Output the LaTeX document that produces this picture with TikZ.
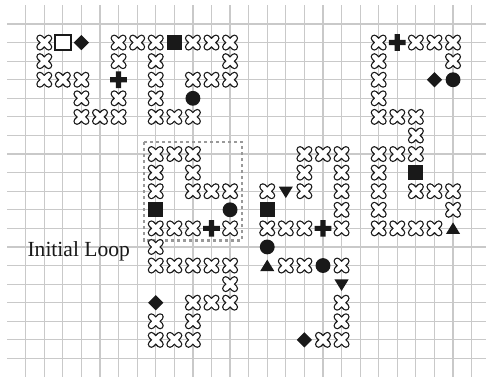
\documentclass[tikz,border=0pt]{standalone}
\usepackage{fontspec}
\setmainfont{Liberation Serif}
\definecolor{gridc}{gray}{0.79}
\definecolor{boxc}{gray}{0.6}
\definecolor{ink}{gray}{0.1}
\tikzset{
  gridline/.style={draw=gridc, line width=0.9pt},
  xout/.style={draw=ink, line width=5.6pt, line cap=round},
  xin/.style={draw=white, line width=3.6pt, line cap=round},
  xk/.pic={
    \draw[xout] (-0.235,-0.235)--(0.235,0.235) (-0.235,0.235)--(0.235,-0.235);
    \draw[xin] (-0.235,-0.235)--(0.235,0.235) (-0.235,0.235)--(0.235,-0.235);
  },
  fsq/.pic={\fill[ink] (-0.4,-0.4) rectangle (0.4,0.4);},
  osq/.pic={\draw[ink, line width=1.5pt, fill=white] (-0.42,-0.42) rectangle (0.42,0.42);},
  dia/.pic={\fill[ink] (-0.41,0) -- (0,-0.41) -- (0.41,0) -- (0,0.41) -- cycle;},
  dot/.pic={\fill[ink] (0,0) circle (0.4);},
  pls/.pic={\fill[ink] (-0.45,-0.14) rectangle (0.45,0.14) (-0.14,-0.45) rectangle (0.14,0.45);},
  tup/.pic={\fill[ink] (-0.38,0.3) -- (0.38,0.3) -- (0,-0.32) -- cycle;},
  tdn/.pic={\fill[ink] (-0.38,-0.25) -- (0.38,-0.25) -- (0,0.37) -- cycle;},
  loopbox/.style={draw=boxc, line width=1.6pt, dash pattern=on 2.3pt off 2.3pt},
  lbl/.style={font=\fontsize{16.5}{18}\selectfont, text=ink, inner sep=0pt, anchor=base west}
}
\begin{document}
\begin{tikzpicture}[x=0.5cm, y=-0.5cm]
\useasboundingbox[fill=white] (-1.383,-1.292) rectangle (24.774,18.945);
\begin{scope}
\clip (-1.383,-1.292) rectangle (24.774,18.945);
\foreach \i in {0,...,24} \draw[gridline] (\i,-1) -- (\i,19.5);
\foreach \j in {0,...,18} \draw[gridline] (-1,\j) -- (25.5,\j);
\end{scope}
% top-left figure
\foreach \c/\r in {1/1,1/2,1/3,2/3,3/3,3/4,3/5,4/5,5/5,5/4,5/2,5/1,6/1,7/1,7/2,7/3,7/4,7/5,8/5,9/5,9/1,10/1,11/1,11/2,11/3,10/3,9/3}
  \pic at (\c,\r) {xk};
\pic at (2,1) {osq};
\pic at (3,1) {dia};
\pic at (5,3) {pls};
\pic at (8,1) {fsq};
\pic at (9,4) {dot};
% top-right figure
\foreach \c/\r in {19/1,21/1,22/1,23/1,19/2,23/2,19/3,19/4,19/5,20/5,21/5,21/6,21/7,20/7,19/7,19/8,19/9,19/10,19/11,20/11,21/11,22/11,21/9,22/9,23/9,23/10}
  \pic at (\c,\r) {xk};
\pic at (20,1) {pls};
\pic at (22,3) {dia};
\pic at (23,3) {dot};
\pic at (21,8) {fsq};
\pic at (23,11) {tup};
% initial loop figure
\draw[loopbox] (6.35,6.35) rectangle (11.65,11.65);
\foreach \c/\r in {7/7,8/7,9/7,7/8,9/8,7/9,9/9,10/9,11/9,7/11,8/11,9/11,11/11,7/12,7/13,8/13,9/13,10/13,11/13,11/14,11/15,10/15,9/15,9/16,7/16,7/17,8/17,9/17}
  \pic at (\c,\r) {xk};
\pic at (7,10) {fsq};
\pic at (11,10) {dot};
\pic at (10,11) {pls};
\pic at (7,15) {dia};
% middle figure
\foreach \c/\r in {15/7,16/7,17/7,15/8,17/8,13/9,15/9,17/9,17/10,13/11,14/11,15/11,17/11,14/13,15/13,17/13,17/15,17/16,16/17,17/17}
  \pic at (\c,\r) {xk};
\pic at (14,9) {tdn};
\pic at (13,10) {fsq};
\pic at (16,11) {pls};
\pic at (13,12) {dot};
\pic at (13,13) {tup};
\pic at (16,13) {dot};
\pic at (17,14) {tdn};
\pic at (15,17) {dia};
\node[lbl] (label) at (0.086,12.52) {Initial Loop};
\end{tikzpicture}
\end{document}
